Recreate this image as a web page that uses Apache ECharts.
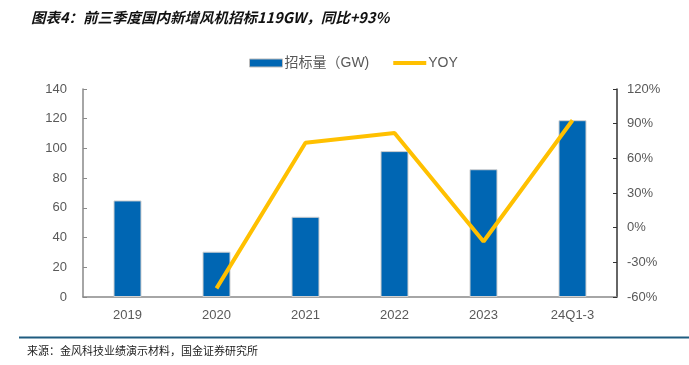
<!DOCTYPE html>
<html><head><meta charset="utf-8">
<script src="https://cdn.jsdelivr.net/npm/echarts@6/dist/echarts.min.js"></script>
<style>html,body{margin:0;padding:0;background:#fff}#c{width:689px;height:365px}</style>
</head><body><div id="c"></div>
<script>
const categories = ['2019','2020','2021','2022','2023','24Q1-3'];
const bidVolume = [65, 30.5, 54, 98.2, 86, 119];
const yoy = [null, -52.5, 73.5, 82, -12, 93];
const leftTicks = [0, 140, 20];
const rightTicks = [-60, 120, 30];

const chart = echarts.init(document.getElementById('c'));
const labelFont = {color:'#595959', fontSize:13, fontFamily:'Arial, "Liberation Sans", sans-serif'};
chart.setOption({
  animation:false,
  title:{text:'图表4：前三季度国内新增风机招标119GW，同比+93%', left:26, top:5,
    textStyle:{fontSize:14.5, fontWeight:'bold', fontStyle:'italic', color:'#111', fontFamily:'"Noto Sans CJK SC", sans-serif'}},
  legend:{left:244, top:51, itemWidth:33, itemHeight:8, itemGap:22,
    textStyle:{color:'#595959', fontSize:14, fontFamily:'Arial, "Noto Sans CJK SC", sans-serif', padding:[0,0,0,-3]},
    data:[{name:'招标量（GW)', icon:'rect', itemStyle:{borderColor:'#bbb', borderWidth:1}},
          {name:'YOY', itemStyle:{opacity:0}, lineStyle:{width:4, color:'#FFC000'}}]},
  grid:{left:83, right:72, top:89, bottom:68},
  xAxis:{type:'category', data:categories, boundaryGap:true,
    axisLine:{lineStyle:{color:'#898989', width:1.5}},
    axisTick:{inside:true, length:4, lineStyle:{color:'#898989'}},
    axisLabel:Object.assign({margin:12}, labelFont)},
  yAxis:[
    {type:'value', min:leftTicks[0], max:leftTicks[1], interval:leftTicks[2],
      splitLine:{show:false},
      axisLine:{show:true, lineStyle:{color:'#898989', width:1.5}},
      axisTick:{show:true, inside:true, length:4, lineStyle:{color:'#898989'}},
      axisLabel:Object.assign({margin:16}, labelFont)},
    {type:'value', min:rightTicks[0], max:rightTicks[1], interval:rightTicks[2],
      splitLine:{show:false},
      axisLine:{show:true, lineStyle:{color:'#333', width:1.5}},
      axisTick:{show:true, inside:true, length:4, lineStyle:{color:'#333'}},
      axisLabel:Object.assign({margin:10, formatter:'{value}%'}, labelFont)}
  ],
  series:[
    {name:'招标量（GW)', type:'bar', data:bidVolume, barWidth:28, yAxisIndex:0,
      itemStyle:{color:'#0066B3', borderColor:'#d0d0d0', borderWidth:1}},
    {name:'YOY', type:'line', data:yoy, yAxisIndex:1, symbol:'none',
      lineStyle:{color:'#FFC000', width:4}, itemStyle:{color:'#FFC000'}}
  ],
  graphic:[
    {type:'line', shape:{x1:19, y1:337.5, x2:689, y2:337.5}, style:{stroke:'#1F5C80', lineWidth:2}},
    {type:'text', left:27, top:345, style:{text:'来源：金风科技业绩演示材料，国金证券研究所', fontSize:11, fill:'#222', fontFamily:'"Noto Sans CJK SC", sans-serif'}}
  ]
});
</script></body></html>
